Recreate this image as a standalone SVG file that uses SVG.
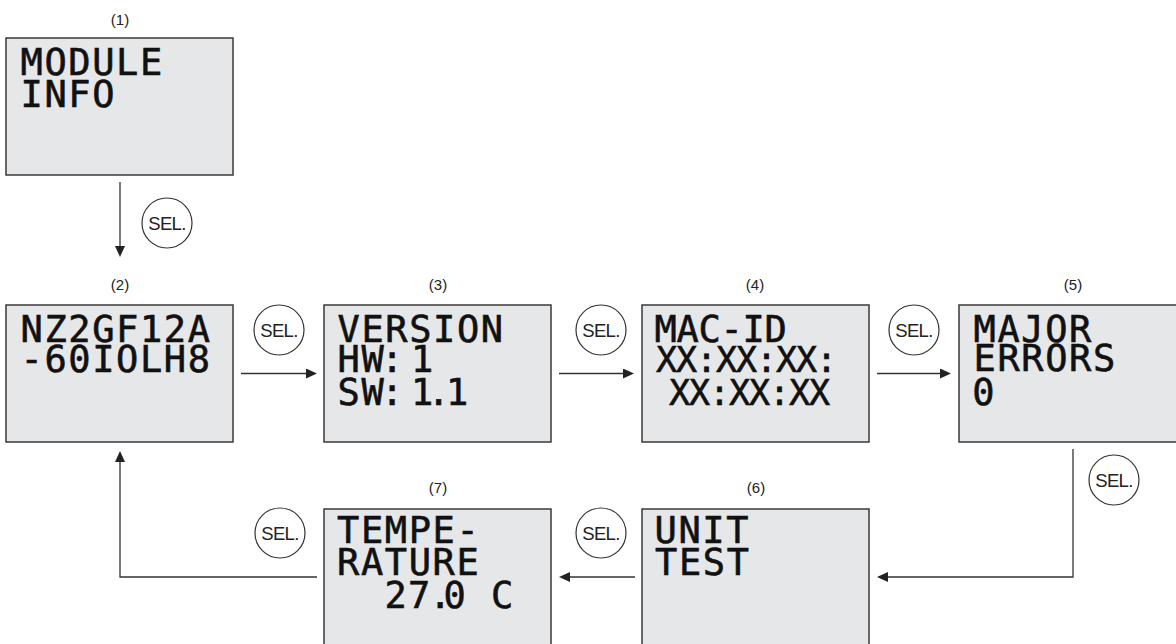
<svg xmlns="http://www.w3.org/2000/svg" width="1176" height="644" viewBox="0 0 1176 644">
<style>
  .box { fill: #e6e7e8; stroke: #3a3a3a; stroke-width: 1.5; }
  .lcd { font-family: "DejaVu Sans Mono", "Liberation Mono", monospace; font-size: 37px; letter-spacing: 1.6px; fill: #111; stroke: #111; stroke-width: 0.6px; }
  .lcd-mac { letter-spacing: -0.3px; }
  .lcd-x { font-size: 35px; letter-spacing: -1.07px; }
  .num { font-family: "Liberation Sans", Arial, sans-serif; font-size: 15px; fill: #222; text-anchor: middle; }
  .conn { fill: none; stroke: #333; stroke-width: 1.3; }
  .sel circle { fill: #fff; stroke: #333; stroke-width: 1.2; }
  .sel text { font-family: "Liberation Sans", Arial, sans-serif; font-size: 18.5px; letter-spacing: -0.6px; fill: #222; text-anchor: middle; }
</style>
<defs>
  <marker id="arrow" markerUnits="userSpaceOnUse" viewBox="0 0 11 10" refX="7" refY="5" markerWidth="11" markerHeight="10" orient="auto">
    <path d="M0,0 L11,5 L0,10 Z" fill="#222"/>
  </marker>
</defs>

<g id="node1">
  <text class="num" x="120" y="25">(1)</text>
  <rect class="box" x="6" y="38" width="227" height="137"/>
  <text class="lcd"><tspan x="20.5" y="75">MODULE</tspan><tspan x="20.5" y="107">INFO</tspan></text>
</g>

<g id="node2">
  <text class="num" x="120" y="290">(2)</text>
  <rect class="box" x="6" y="305" width="227" height="137"/>
  <text class="lcd"><tspan x="20.5" y="342">NZ2GF12A</tspan><tspan x="20.5" y="372">-60IOLH8</tspan></text>
</g>

<g id="node3">
  <text class="num" x="438" y="290">(3)</text>
  <rect class="box" x="324" y="305" width="227" height="137"/>
  <text class="lcd"><tspan x="337.5" y="342">VERSION</tspan><tspan x="337.5 361.4 381 400 411" y="372">HW: 1</tspan><tspan x="337.5 361.4 381 400 411 427.5 446" y="405">SW: 1.1</tspan></text>
</g>

<g id="node4">
  <text class="num" x="755" y="290">(4)</text>
  <rect class="box" x="642" y="305" width="227" height="137"/>
  <text class="lcd"><tspan class="lcd-mac" x="654.5" y="342">MAC-ID</tspan><tspan class="lcd-x" x="656" y="372">XX:XX:XX:</tspan><tspan class="lcd-x" x="669" y="405">XX:XX:XX</tspan></text>
</g>

<g id="node5">
  <text class="num" x="1073" y="290">(5)</text>
  <rect class="box" x="959" y="305" width="227" height="137"/>
  <text class="lcd"><tspan x="973.5" y="342">MAJOR</tspan><tspan x="973.5" y="371">ERRORS</tspan><tspan x="972.3" y="405">0</tspan></text>
</g>

<g id="node6">
  <text class="num" x="756" y="493">(6)</text>
  <rect class="box" x="642" y="509" width="227" height="137"/>
  <text class="lcd"><tspan x="654.5" y="543">UNIT</tspan><tspan x="655" y="575">TEST</tspan></text>
</g>

<g id="node7">
  <text class="num" x="438" y="493">(7)</text>
  <rect class="box" x="324" y="509" width="227" height="137"/>
  <text class="lcd"><tspan x="337" y="543">TEMPE-</tspan><tspan x="337" y="575">RATURE</tspan><tspan x="384.5 408 429 443.5 467 491" y="608">27.0 C</tspan></text>
</g>

<g id="connectors">
  <path class="conn" d="M120,182 V253" marker-end="url(#arrow)"/>
  <path class="conn" d="M241,373.5 H313" marker-end="url(#arrow)"/>
  <path class="conn" d="M559,373.5 H630" marker-end="url(#arrow)"/>
  <path class="conn" d="M877,373.5 H947" marker-end="url(#arrow)"/>
  <path class="conn" d="M1073,449 V577 H881" marker-end="url(#arrow)"/>
  <path class="conn" d="M635,577 H563" marker-end="url(#arrow)"/>
  <path class="conn" d="M317,577 H120 V455" marker-end="url(#arrow)"/>
</g>

<g id="sel-labels">
  <g class="sel"><circle cx="167" cy="223" r="25"/><text x="167" y="229.5">SEL.</text></g>
  <g class="sel"><circle cx="279" cy="330" r="25"/><text x="279" y="336.5">SEL.</text></g>
  <g class="sel"><circle cx="601" cy="330" r="25"/><text x="601" y="336.5">SEL.</text></g>
  <g class="sel"><circle cx="914" cy="330" r="25"/><text x="914" y="336.5">SEL.</text></g>
  <g class="sel"><circle cx="1114" cy="480" r="25"/><text x="1114" y="486.5">SEL.</text></g>
  <g class="sel"><circle cx="601" cy="533" r="25"/><text x="601" y="539.5">SEL.</text></g>
  <g class="sel"><circle cx="280" cy="533" r="25"/><text x="280" y="539.5">SEL.</text></g>
</g>
</svg>
